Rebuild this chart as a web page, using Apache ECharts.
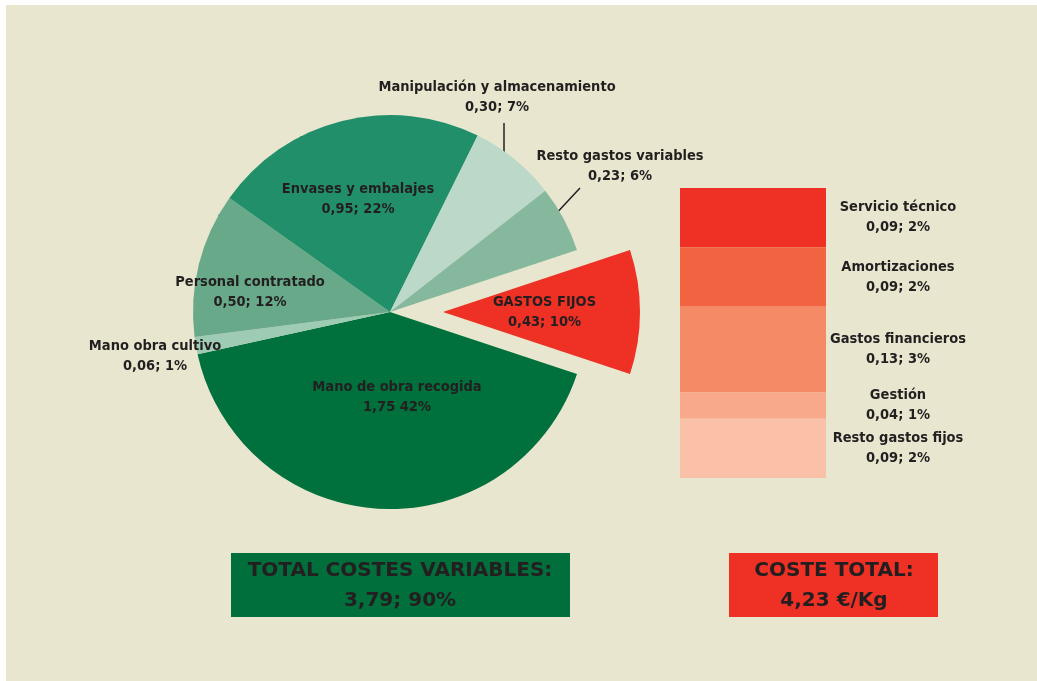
<!DOCTYPE html>
<html>
<head>
    <meta charset="utf-8">
    <title>Costes de producción</title>
    <script type="text/javascript" src="https://cdn.jsdelivr.net/npm/echarts@6/dist/echarts.min.js"></script>
    <style>
        body {
            margin: 0px;
            padding: 0px;
            background: #ffffff;
        }

        #chart {
            width: 1037px;
            height: 681px;
        }
    </style>
</head>
<body>
<div id="chart"></div>
<script type="text/javascript">
    // costes variables + gastos fijos (€/Kg), en el orden del dibujo
    var pieNames = ['GASTOS FIJOS', 'Mano de obra recogida', 'Mano obra cultivo', 'Personal contratado',
        'Envases y embalajes', 'Manipulación y almacenamiento', 'Resto gastos variables'];
    var pieValues = [0.43, 1.75, 0.06, 0.50, 0.95, 0.30, 0.23];
    var piePercents = [10, 42, 1, 12, 22, 7, 6];

    // desglose de los gastos fijos
    var fixedNames = ['Servicio técnico', 'Amortizaciones', 'Gastos financieros', 'Gestión', 'Resto gastos fijos'];
    var fixedValues = [0.09, 0.09, 0.13, 0.04, 0.09];
    var fixedPercents = [2, 2, 3, 1, 2];

    var totalVariables = '3,79; 90%';
    var totalCoste = '4,23 €/Kg';

    var pieColors = ['#ee3124', '#00703c', '#9ecbb4', '#68a98a', '#21906a', '#bcd8c9', '#86b89d'];
    var fixedColors = ['#ee3124', '#f16341', '#f58a67', '#f9a98b', '#fbc1a8'];
    var textColor = '#231f20';
    var labelFont = '"DejaVu Sans Condensed", sans-serif';
    var labelSize = 14.5;

    // donde va cada etiqueta de la tarta
    var pieLabelPos = [[563, 313], [397, 397], [155, 356], [250, 292], [358, 199], [497, 97], [620, 166]];
    var pieLeader = {5: [[504, 167], [504, 145], [504, 123]], 6: [[553, 217], [566, 203], [580, 188]]};

    function fmt(v) {
        return v.toFixed(2).replace('.', ',');
    }

    var pieData = [];
    for (var i = 0; i < pieNames.length; i++) {
        var item = {name: pieNames[i], value: pieValues[i], itemStyle: {color: pieColors[i]}};
        if (i == 0) item.selected = true;
        if (i == 2 || i == 5 || i == 6) {
            item.label = {position: 'outside'};
            item.labelLine = {show: i != 2};
        }
        pieData.push(item);
    }

    var fixedTotal = 0;
    for (var j = 0; j < fixedValues.length; j++) fixedTotal += fixedValues[j];

    var barSeries = [];
    for (var k = 0; k < fixedNames.length; k++) {
        barSeries.push({
            type: 'bar',
            stack: 'fijos',
            barWidth: '100%',
            name: fixedNames[k],
            data: [fixedValues[k]],
            itemStyle: {color: fixedColors[k]},
            label: {
                show: true,
                position: 'right',
                distance: 72,
                align: 'center',
                verticalAlign: 'middle',
                color: textColor,
                fontFamily: labelFont,
                fontWeight: 'bold',
                fontSize: labelSize,
                lineHeight: 20,
                formatter: (function (idx) {
                    return function () {
                        return fixedNames[idx] + '\n' + fmt(fixedValues[idx]) + '; ' + fixedPercents[idx] + '%';
                    };
                })(k)
            }
        });
    }

    var chart = echarts.init(document.getElementById('chart'));
    var option = {
        animation: false,
        graphic: [
            {type: 'rect', z: -10, shape: {x: 6, y: 5, width: 1031, height: 676}, style: {fill: '#e9e6cf'}},
            {type: 'rect', shape: {x: 231, y: 553, width: 339, height: 64}, style: {fill: '#006f3c'}},
            {
                type: 'text', x: 400, y: 586,
                style: {
                    text: 'TOTAL COSTES VARIABLES:\n' + totalVariables, fill: textColor,
                    font: 'bold 20px "DejaVu Sans", sans-serif', lineHeight: 30,
                    align: 'center', verticalAlign: 'middle'
                }
            },
            {type: 'rect', shape: {x: 729, y: 553, width: 209, height: 64}, style: {fill: '#ee3124'}},
            {
                type: 'text', x: 834, y: 586,
                style: {
                    text: 'COSTE TOTAL:\n' + totalCoste, fill: textColor,
                    font: 'bold 20px "DejaVu Sans", sans-serif', lineHeight: 30,
                    align: 'center', verticalAlign: 'middle'
                }
            }
        ],
        grid: {left: 680, top: 188, width: 146, height: 290},
        xAxis: {type: 'category', data: ['fijos'], show: false},
        yAxis: {type: 'value', min: 0, max: fixedTotal, inverse: true, show: false},
        series: [{
            type: 'pie',
            center: [390, 312],
            radius: 197,
            startAngle: 18.35,
            selectedMode: 'single',
            selectedOffset: 53,
            emphasis: {disabled: true},
            data: pieData,
            label: {
                position: 'inside',
                color: textColor,
                fontFamily: labelFont,
                fontWeight: 'bold',
                fontSize: labelSize,
                lineHeight: 20,
                align: 'center',
                overflow: 'none',
                formatter: function (p) {
                    var sep = p.dataIndex == 1 ? ' ' : '; ';
                    return p.name + '\n' + fmt(pieValues[p.dataIndex]) + sep + piePercents[p.dataIndex] + '%';
                }
            },
            labelLine: {lineStyle: {color: textColor, width: 1.5}},
            labelLayout: function (p) {
                var pos = pieLabelPos[p.dataIndex];
                var out = {x: pos[0], y: pos[1], align: 'center', verticalAlign: 'middle'};
                if (pieLeader[p.dataIndex]) out.labelLinePoints = pieLeader[p.dataIndex];
                return out;
            }
        }].concat(barSeries)
    };
    chart.setOption(option);
</script>
</body>
</html>
